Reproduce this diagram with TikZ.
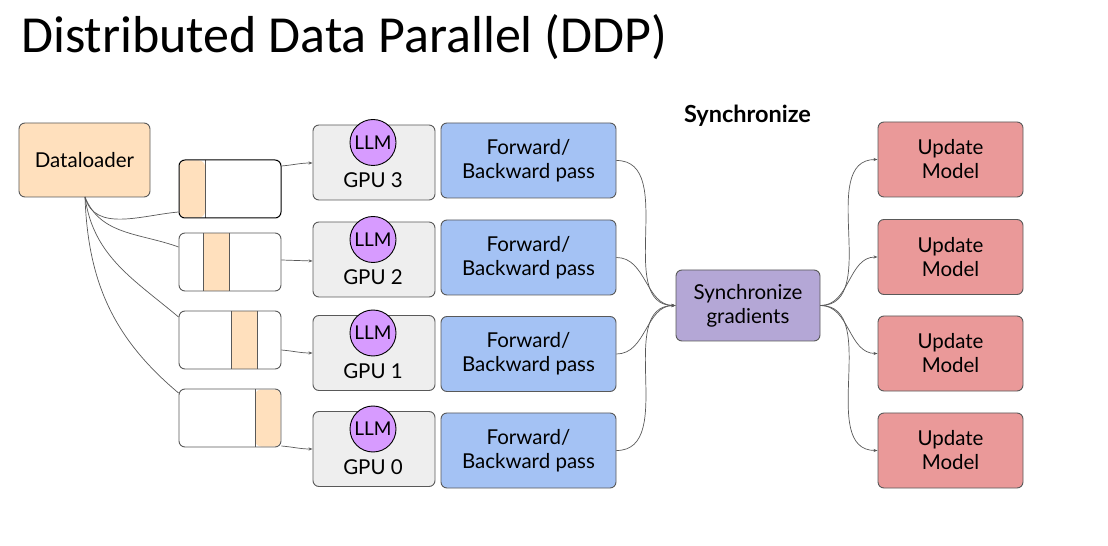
\documentclass[tikz,border=0pt]{standalone}
\usepackage{fontspec}
\setmainfont{Lato}
\newfontfamily\titlefont{Carlito}
\usetikzlibrary{arrows.meta}
\definecolor{peach}{HTML}{FFE0BD}
\definecolor{gpugray}{HTML}{EEEEEE}
\definecolor{llmviolet}{HTML}{D79BFF}
\definecolor{fwdblue}{HTML}{A4C2F4}
\definecolor{syncpurple}{HTML}{B4A7D6}
\definecolor{updred}{HTML}{EA9999}
\definecolor{edgegray}{HTML}{595959}
\begin{document}
\begin{tikzpicture}[x=1bp,y=-1bp,
  box/.style={draw=edgegray, line width=0.9bp, rounded corners=6bp, inner sep=0pt},
  lbl/.style={font=\fontsize{20.5bp}{24bp}\selectfont, align=center, inner sep=0pt},
  conn/.style={draw=edgegray, line width=0.7bp},
  arr/.style={conn, -{Stealth[length=4bp,width=3bp]}}
]
\useasboundingbox (0,0) rectangle (1108,546);
\node[anchor=base west, inner sep=0pt, font=\titlefont\fontsize{52bp}{58bp}\selectfont] (title) at (21,53) {Distributed Data Parallel (DDP)};

% Dataloader
\node[box, fill=peach, minimum width=131bp, minimum height=74bp, lbl] (dl) at (84.5,160) {Dataloader};

% batch boxes
\foreach \i/\y/\ox in {2/262/203, 3/340/231}{
  \fill[peach] (\ox,\y-29) rectangle (\ox+26,\y+29);
  \draw[edgegray, line width=0.9bp] (\ox,\y-29) -- (\ox,\y+29) (\ox+26,\y-29) -- (\ox+26,\y+29);
  \node[box, minimum width=102bp, minimum height=58bp] (b\i) at (230,\y) {};
}
\fill[peach, rounded corners=6bp] (179.5,160.5) -- (205,160.5) -- (205,217.5) -- (179.5,217.5) -- cycle;
\draw[edgegray, line width=0.9bp] (205,160) -- (205,218);
\node[draw=black, line width=1bp, rounded corners=6bp, inner sep=0pt, minimum width=102bp, minimum height=58bp] (b1) at (230,189) {};
\fill[peach, rounded corners=6bp] (255,389.5) -- (280.5,389.5) -- (280.5,446.5) -- (255,446.5) -- cycle;
\draw[edgegray, line width=0.9bp] (255,389) -- (255,447);
\node[box, minimum width=102bp, minimum height=58bp] (b4) at (230,418) {};

% GPU boxes
\foreach \i/\y/\n in {3/162.5/3, 2/259.5/2, 1/353/1, 0/449/0}{
  \node[box, fill=gpugray, minimum width=122bp, minimum height=75bp] (g\i) at (374,\y) {};
  \node[circle, draw=black, line width=0.9bp, fill=llmviolet, minimum size=46bp, inner sep=0pt, font=\fontsize{19bp}{20bp}\selectfont] (llm\i) at (373,\y-20) {LLM};
  \node[lbl] (gt\i) at (373,\y+18) {GPU \n};
}

% Forward boxes
\foreach \i/\y in {3/160.5, 2/257.5, 1/354, 0/450.5}{
  \node[box, fill=fwdblue, minimum width=175bp, minimum height=75bp, lbl] (f\i) at (528.5,\y) {Forward/\\Backward pass};
}

% Sync
\node[box, fill=syncpurple, minimum width=144bp, minimum height=71bp, lbl] (sync) at (748,305.5) {Synchronize\\gradients};
\node[inner sep=0pt, font=\bfseries\fontsize{23.5bp}{26bp}\selectfont] (synclbl) at (747.5,116) {Synchronize};

% Update boxes
\foreach \i/\y in {3/159.5, 2/257, 1/353.5, 0/450.5}{
  \node[box, fill=updred, minimum width=145bp, minimum height=75bp, lbl] (u\i) at (950.5,\y) {Update\\Model};
}

% connectors dataloader -> batches
\coordinate (dlb) at (85,197);
\draw[conn] (dlb) to[out=-75, in=185] ([yshift=-23bp]b1.west);
\draw[conn] (dlb) to[out=-68, in=160] ([yshift=15bp]b2.west);
\draw[conn] (dlb) to[out=-82, in=140] ([yshift=23bp]b3.west);
\draw[conn] (dlb) to[out=-88, in=140] ([yshift=25bp]b4.west);

% batches -> GPUs
\draw[arr] ([yshift=23bp]b1.east) to[out=5,in=180] ([yshift=-0.5bp]g3.west);
\draw[arr] ([yshift=2bp]b2.east) -- ([yshift=-1.5bp]g2.west);
\draw[arr] ([yshift=-10bp]b3.east) to[out=-5,in=180] (g1.west);
\draw[arr] ([yshift=-28bp]b4.east) to[out=-5,in=180] (g0.west);

% forward -> sync
\foreach \i in {3,2,1,0}{
  \draw[arr] (f\i.east) to[out=0, in=180] (sync.west);
}
% sync -> update
\foreach \i in {3,2,1,0}{
  \draw[arr] (sync.east) to[out=0, in=180] (u\i.west);
}
\end{tikzpicture}
\end{document}
